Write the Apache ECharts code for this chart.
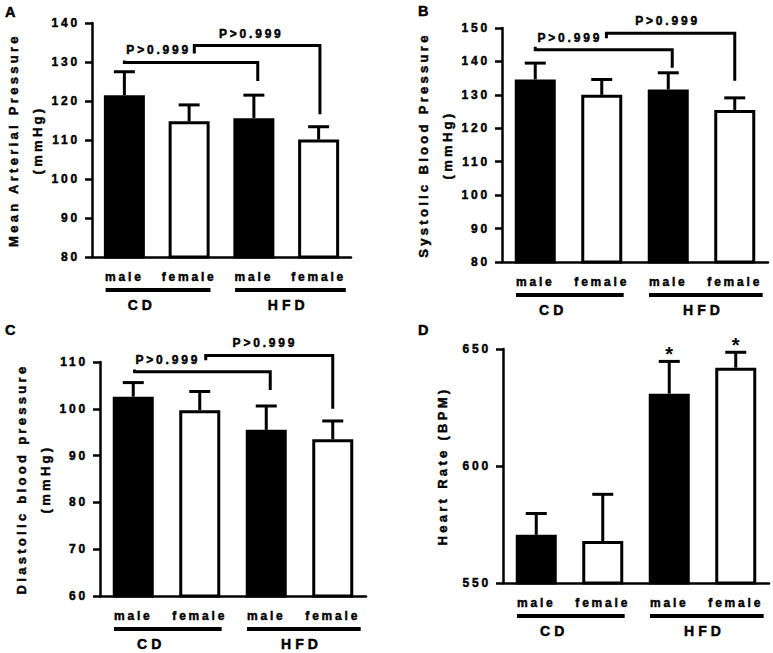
<!DOCTYPE html>
<html>
<head>
<meta charset="utf-8">
<script src="https://cdn.jsdelivr.net/npm/echarts@6/dist/echarts.min.js"></script>
<style>
  html, body { margin: 0; padding: 0; background: #fff; }
  #main { width: 773px; height: 653px; }
  #main svg text { letter-spacing: 2.8px; }
  #main svg text[style*="13px"] { letter-spacing: 3.3px; }
  #main svg text[style*="14px"] { letter-spacing: 4px; }
  #main svg text[style*="20px"] { letter-spacing: 0; }
</style>
</head>
<body>
<div id="main"></div>
<script>
// ---------- data ----------
const categories = ['male', 'female', 'male', 'female'];
const groups = ['CD', 'HFD'];
const panelLetters = ['A', 'B', 'C', 'D'];

const meanA = [121.5, 114.8, 115.6, 110.1];
const semA  = [6.0, 4.2, 5.9, 3.3];
const meanB = [134.6, 130.0, 131.6, 125.5];
const semB  = [4.9, 4.6, 5.0, 3.6];
const meanC = [102.6, 99.7, 95.5, 93.5];
const semC  = [3.0, 4.0, 5.1, 3.9];
const meanD = [570.6, 567.9, 630.9, 642.0];
const semD  = [9.1, 20.0, 13.8, 6.6];
const starsD = ['', '', '*', '*'];

const pText = 'P>0.999';
// [x from, y left end, y line, x to, y right end, label x]
const bracketsA = [[0, 130.4, 129.9, 2.06, 125.1, 0.53], [1.08, 132.2, 134.2, 3.02, 116.6, 1.96]];
const bracketsB = [[0, 144.4, 143.5, 2.06, 138.1, 0.52], [1.07, 146.9, 148.4, 3.00, 134.2, 1.99]];
const bracketsC = [[0.02, 108.4, 107.9, 2.06, 104.0, 0.52], [1.09, 110.4, 111.4, 3.00, 100.0, 1.98]];

const yNames = ['Mean Arterial Pressure\n(mmHg)', 'Systolic Blood Pressure\n(mmHg)', 'Diastolic blood pressure\n(mmHg)', 'Heart Rate (BPM)'];
const yMin = [80, 80, 60, 550];
const yMax = [140, 150, 110, 650];
const yStep = [10, 10, 10, 50];
// group underline spans and label positions (category units)
const groupSpans = [[-0.29, 1.33], [1.71, 3.42]];
const groupLabelX = [0.27, 2.53];

// ---------- layout ----------
const FONT = '"Liberation Sans", Arial, Helvetica, sans-serif';
const HEAVY = { textBorderColor: '#000', textBorderWidth: 0.45 };
const grids = [
  { left: 86, top: 23, width: 265, height: 234 },
  { left: 502, top: 28, width: 266, height: 234 },
  { left: 100, top: 362, width: 266, height: 234 },
  { left: 503, top: 349, width: 266, height: 234 }
];
const nameGaps = [43, 43, 43, 49];
const letterPos = [[5, 4], [418, 3], [5, 322], [418, 322]];

const means = [meanA, meanB, meanC, meanD];
const sems = [semA, semB, semC, semD];
const brackets = [bracketsA, bracketsB, bracketsC, null];
const stars = [null, null, null, starsD];

const option = {
  backgroundColor: '#fff',
  animation: false,
  title: panelLetters.map((t, k) => ({
    text: t, left: letterPos[k][0], top: letterPos[k][1], padding: 0,
    textStyle: Object.assign({ fontSize: 14.5, fontWeight: 'bold', fontFamily: FONT, color: '#000' }, HEAVY)
  })),
  grid: grids.map(g => Object.assign({ containLabel: false }, g)),
  xAxis: [],
  yAxis: [],
  series: []
};

for (let k = 0; k < 4; k++) {
  // visible category axis
  option.xAxis.push({
    type: 'category', gridIndex: k, data: categories,
    axisLine: { onZero: false, lineStyle: { color: '#000', width: 2.5 } },
    axisTick: { show: false },
    axisLabel: Object.assign({ color: '#000', fontSize: 12, fontWeight: 'bold', fontFamily: FONT, margin: 14 }, HEAVY),
    splitLine: { show: false }
  });
  // hidden value axis aligned with category centres (for annotations)
  option.xAxis.push({
    type: 'value', gridIndex: k, min: -0.5, max: 3.5, show: false,
    axisLine: { onZero: false }
  });
  option.yAxis.push({
    type: 'value', gridIndex: k, min: yMin[k], max: yMax[k], interval: yStep[k],
    name: yNames[k], nameLocation: 'middle', nameRotate: 90, nameGap: nameGaps[k],
    nameTextStyle: Object.assign({ color: '#000', fontSize: 13, fontWeight: 'bold', fontFamily: FONT, lineHeight: 24 }, HEAVY),
    axisLine: { show: true, onZero: false, lineStyle: { color: '#000', width: 2.5 } },
    axisTick: { show: true, length: 7, lineStyle: { color: '#000', width: 2.5 } },
    axisLabel: Object.assign({ color: '#000', fontSize: 12, fontWeight: 'bold', fontFamily: FONT, margin: 12 }, HEAVY),
    splitLine: { show: false }
  });

  const m = means[k], s = sems[k];
  const ymin = yMin[k];

  // error bars (upper only)
  option.series.push({
    type: 'custom', xAxisIndex: 2 * k + 1, yAxisIndex: k, z: 1,
    data: m.map((v, i) => [i, v, v + s[i]]),
    renderItem: function (params, api) {
      const base = api.coord([api.value(0), api.value(1)]);
      const top = api.coord([api.value(0), api.value(2)]);
      const st = { stroke: '#000', lineWidth: 3, fill: null };
      return { type: 'group', children: [
        { type: 'line', shape: { x1: base[0], y1: base[1], x2: top[0], y2: top[1] }, style: st },
        { type: 'line', shape: { x1: top[0] - 10.5, y1: top[1], x2: top[0] + 10.5, y2: top[1] }, style: st }
      ] };
    }
  });

  // bars
  option.series.push({
    type: 'bar', xAxisIndex: 2 * k, yAxisIndex: k, z: 2,
    barWidth: 41,
    data: m.map((v, i) => ({ value: v, itemStyle: { color: i % 2 === 0 ? '#000' : '#fff', borderColor: '#000', borderWidth: 3 } }))
  });

  // significance brackets
  if (brackets[k]) {
    option.series.push({
      type: 'custom', xAxisIndex: 2 * k + 1, yAxisIndex: k, z: 3,
      data: brackets[k],
      renderItem: function (params, api) {
        const p0 = api.coord([api.value(0), api.value(1)]);
        const p1 = api.coord([api.value(0), api.value(2)]);
        const p2 = api.coord([api.value(3), api.value(2)]);
        const p3 = api.coord([api.value(3), api.value(4)]);
        const lp = api.coord([api.value(5), api.value(2)]);
        return { type: 'group', children: [
          { type: 'polyline', shape: { points: [p0, p1, p2, p3] },
            style: { stroke: '#000', lineWidth: 3, fill: null, lineJoin: 'miter' } },
          { type: 'text', style: { text: pText, x: lp[0], y: lp[1] - 6, align: 'center', verticalAlign: 'bottom',
            font: 'bold 12px ' + FONT, fill: '#000', stroke: '#000', lineWidth: 0.45 } }
        ] };
      }
    });
  }

  // asterisks
  if (stars[k]) {
    const st = stars[k];
    option.series.push({
      type: 'custom', xAxisIndex: 2 * k + 1, yAxisIndex: k, z: 3,
      data: m.map((v, i) => [i, v + s[i]]),
      renderItem: function (params, api) {
        const i = api.value(0);
        const p = api.coord([i, api.value(1)]);
        return { type: 'text', style: { text: st[i], x: p[0], y: p[1] + 3, align: 'center', verticalAlign: 'bottom',
          font: 'bold 20px ' + FONT, fill: '#000' } };
      }
    });
  }

  // group underlines and labels
  option.series.push({
    type: 'custom', xAxisIndex: 2 * k + 1, yAxisIndex: k, z: 3, clip: false,
    data: groups.map((g, j) => [groupSpans[j][0], groupSpans[j][1], groupLabelX[j], j]),
    renderItem: function (params, api) {
      const a = api.coord([api.value(0), ymin]);
      const b = api.coord([api.value(1), ymin]);
      const c = api.coord([api.value(2), ymin]);
      const j = api.value(3);
      return { type: 'group', children: [
        { type: 'line', shape: { x1: a[0], y1: a[1] + 33, x2: b[0], y2: b[1] + 33 },
          style: { stroke: '#000', lineWidth: 4 } },
        { type: 'text', style: { text: groups[j], x: c[0], y: c[1] + 48, align: 'center', verticalAlign: 'middle',
          font: 'bold 14px ' + FONT, fill: '#000', stroke: '#000', lineWidth: 0.45 } }
      ] };
    }
  });
}

const chart = echarts.init(document.getElementById('main'), null, { renderer: 'svg', width: 773, height: 653 });
chart.setOption(option);
</script>
</body>
</html>
